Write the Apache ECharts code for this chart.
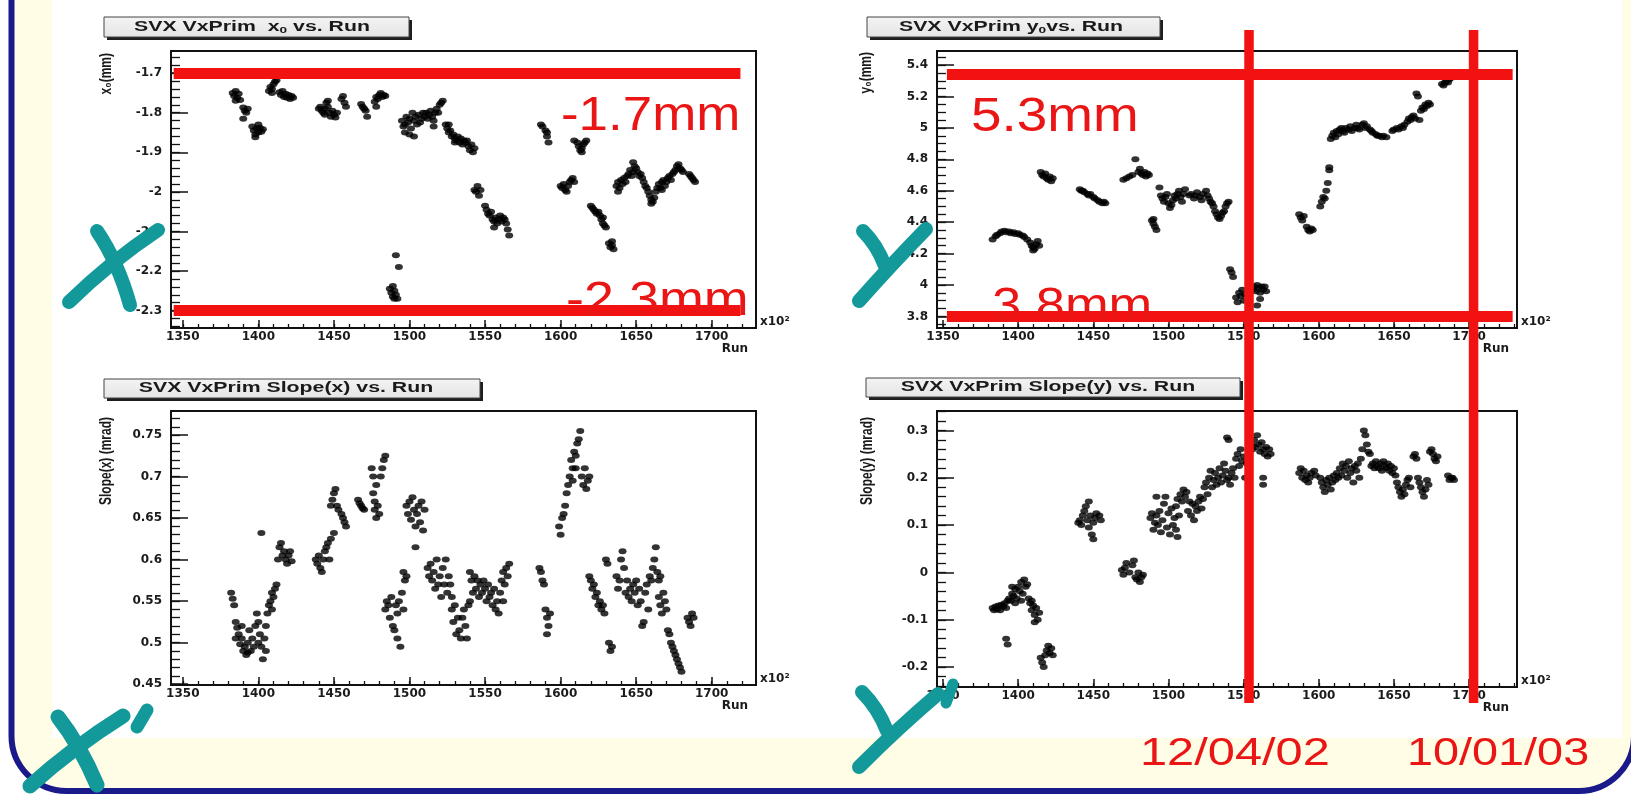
<!DOCTYPE html>
<html><head><meta charset="utf-8">
<script src="https://cdn.jsdelivr.net/npm/echarts@6/dist/echarts.min.js"></script>
<style>html,body{margin:0;padding:0;background:#fff}#c{width:1631px;height:794px}</style>
</head><body><div id="c"></div>
<script>
// ---------------- data ----------------
const x0Points = [
[1383,-1.75],[1384,-1.758],[1385,-1.745],[1386,-1.762],[1387,-1.752],[1388,-1.768],[1385,-1.77],
[1390,-1.787],[1391,-1.795],[1392,-1.80],[1393,-1.79],[1390,-1.815],
[1396,-1.835],[1397,-1.845],[1398,-1.855],[1399,-1.84],[1400,-1.85],[1401,-1.838],[1402,-1.848],[1403,-1.842],[1398,-1.862],[1400,-1.83],
[1407,-1.745],[1408,-1.735],[1409,-1.75],[1410,-1.728],[1411,-1.722],[1412,-1.718],[1409,-1.74],
[1414,-1.748],[1415,-1.755],[1416,-1.745],[1417,-1.76],[1418,-1.752],[1419,-1.762],[1420,-1.755],[1421,-1.765],[1422,-1.758],[1423,-1.762],
[1440,-1.79],[1441,-1.785],[1442,-1.795],[1443,-1.80],[1444,-1.79],[1445,-1.775],[1446,-1.785],[1447,-1.80],[1448,-1.81],[1449,-1.795],[1450,-1.805],[1451,-1.812],[1452,-1.80],[1446,-1.77],[1444,-1.805],
[1455,-1.765],[1456,-1.758],[1457,-1.775],[1458,-1.785],
[1468,-1.778],[1469,-1.785],[1470,-1.79],[1471,-1.795],[1472,-1.81],
[1477,-1.772],[1478,-1.76],[1479,-1.765],[1480,-1.755],[1481,-1.75],[1482,-1.76],[1483,-1.755],[1484,-1.758],[1478,-1.785],
[1491,-2.16],[1493,-2.19],[1487,-2.245],[1488,-2.255],[1489,-2.265],[1490,-2.27],[1491,-2.26],[1492,-2.27],[1490,-2.25],[1489,-2.238],
[1495,-1.82],[1496,-1.835],[1497,-1.83],[1498,-1.81],[1499,-1.825],[1500,-1.815],[1501,-1.84],[1502,-1.80],[1503,-1.82],[1504,-1.81],[1505,-1.83],[1506,-1.805],[1507,-1.825],[1508,-1.815],[1500,-1.855],[1497,-1.85],[1503,-1.86],[1509,-1.80],
[1510,-1.81],[1511,-1.80],[1512,-1.815],[1513,-1.805],[1514,-1.795],[1515,-1.81],[1516,-1.82],[1517,-1.80],[1518,-1.79],[1519,-1.80],[1520,-1.78],[1521,-1.775],[1522,-1.77],[1516,-1.835],
[1524,-1.83],[1525,-1.84],[1526,-1.85],[1527,-1.845],[1528,-1.86],[1529,-1.855],[1530,-1.865],[1531,-1.87],[1532,-1.86],[1533,-1.875],[1534,-1.865],[1535,-1.88],[1536,-1.87],[1537,-1.875],[1538,-1.87],[1539,-1.885],[1540,-1.895],[1541,-1.88],[1542,-1.90],[1543,-1.89],[1526,-1.83],[1530,-1.875],
[1543,-1.995],[1544,-2.0],[1545,-1.985],[1546,-2.01],[1547,-1.995],
[1550,-2.035],[1551,-2.045],[1552,-2.055],[1553,-2.06],[1554,-2.05],[1555,-2.07],[1556,-2.075],[1557,-2.065],[1558,-2.08],[1559,-2.07],[1560,-2.06],[1561,-2.075],[1562,-2.065],[1563,-2.07],[1564,-2.08],[1565,-2.095],[1566,-2.11],[1556,-2.09],
[1587,-1.83],[1588,-1.835],[1590,-1.845],[1591,-1.86],[1592,-1.875],[1591,-1.85],
[1600,-1.985],[1601,-1.99],[1602,-1.98],[1603,-1.995],[1604,-2.0],[1605,-1.985],[1606,-1.975],[1607,-1.97],[1608,-1.965],[1609,-1.975],
[1609,-1.87],[1611,-1.875],[1612,-1.885],[1613,-1.895],[1614,-1.89],[1615,-1.88],[1616,-1.875],[1617,-1.87],[1614,-1.9],
[1620,-2.035],[1621,-2.04],[1622,-2.045],[1623,-2.05],[1624,-2.055],[1625,-2.05],[1626,-2.06],[1627,-2.07],[1628,-2.08],[1629,-2.085],[1630,-2.09],[1628,-2.065],
[1632,-2.13],[1633,-2.14],[1634,-2.135],[1635,-2.145],[1634,-2.125],
[1637,-1.985],[1638,-1.975],[1639,-1.99],[1640,-1.97],[1641,-1.98],[1642,-1.965],[1643,-1.975],[1644,-1.96],[1645,-1.955],[1646,-1.945],[1647,-1.96],[1648,-1.95],[1649,-1.935],[1650,-1.94],[1651,-1.95],[1652,-1.96],[1653,-1.955],[1654,-1.965],[1648,-1.925],[1638,-2.0],
[1655,-1.975],[1656,-1.985],[1657,-1.99],[1658,-2.0],[1659,-2.01],[1660,-2.02],[1661,-2.025],[1662,-2.015],[1663,-2.0],[1664,-1.99],[1660,-2.03],
[1665,-1.98],[1666,-1.99],[1667,-1.975],[1668,-1.97],[1669,-1.985],[1670,-1.975],[1671,-1.965],[1672,-1.96],[1673,-1.97],[1674,-1.955],[1675,-1.95],[1676,-1.945],[1677,-1.935],[1678,-1.93],[1679,-1.94],[1680,-1.945],[1681,-1.95],[1667,-1.995],
[1685,-1.955],[1686,-1.96],[1687,-1.965],[1688,-1.97],[1689,-1.975]
];
const y0Points = [
[1383,4.29],[1385,4.31],[1386,4.32],[1388,4.33],[1389,4.34],[1391,4.345],[1392,4.335],[1394,4.34],[1395,4.33],[1397,4.335],[1398,4.325],[1400,4.33],[1401,4.32],[1403,4.315],[1404,4.305],[1406,4.29],
[1408,4.27],[1409,4.25],[1410,4.24],[1411,4.23],[1412,4.26],[1413,4.28],[1414,4.25],[1410,4.22],
[1415,4.72],[1416,4.70],[1417,4.69],[1418,4.71],[1419,4.68],[1420,4.67],[1421,4.69],[1422,4.66],[1423,4.68],
[1441,4.61],[1442,4.60],[1443,4.60],[1444,4.59],[1446,4.58],[1447,4.57],[1448,4.58],[1450,4.56],[1451,4.55],[1453,4.54],[1454,4.53],[1456,4.52],[1457,4.53],[1458,4.52],
[1470,4.67],[1472,4.68],[1474,4.69],[1476,4.70],[1478,4.80],
[1480,4.72],[1481,4.74],[1482,4.71],[1483,4.70],[1484,4.72],[1485,4.69],[1486,4.71],[1487,4.70],
[1489,4.41],[1490,4.39],[1491,4.37],[1492,4.35],[1490,4.42],
[1494,4.62],[1495,4.57],[1496,4.55],[1497,4.53],[1498,4.56],[1499,4.58],[1500,4.52],[1501,4.49],[1502,4.51],[1503,4.54],[1504,4.57],[1505,4.55],[1506,4.58],[1507,4.60],[1508,4.56],[1509,4.53],[1510,4.58],[1511,4.61],
[1514,4.57],[1515,4.58],[1517,4.55],[1518,4.57],[1519,4.59],[1521,4.56],[1522,4.54],[1523,4.58],[1525,4.60],[1526,4.57],[1527,4.55],[1528,4.53],
[1529,4.52],[1530,4.50],[1531,4.47],[1532,4.45],[1533,4.43],[1534,4.42],[1535,4.44],[1536,4.46],[1537,4.47],[1538,4.50],[1539,4.52],[1540,4.53],
[1541,4.10],[1542,4.08],[1543,4.05],
[1545,3.92],[1546,3.89],[1547,3.95],[1548,3.93],[1549,3.97],[1550,3.90],[1551,3.94],
[1556,3.97],[1557,3.99],[1558,3.96],[1559,4.0],[1560,3.98],[1561,3.95],[1562,3.99],[1563,3.97],[1564,3.99],[1565,3.96],[1559,3.87],[1561,3.91],
[1587,4.45],[1588,4.43],[1589,4.41],[1590,4.44],
[1592,4.37],[1593,4.35],[1594,4.34],[1595,4.36],[1596,4.35],
[1601,4.50],[1602,4.53],[1603,4.56],[1604,4.55],[1605,4.60],[1606,4.65],[1607,4.73],[1607,4.75],
[1608,4.93],[1609,4.95],[1610,4.97],[1611,4.94],[1612,4.98],[1613,4.96],[1614,4.99],[1615,5.0],[1616,4.98],[1617,4.97],[1618,5.0],[1620,4.99],[1621,5.01],[1622,4.98],[1624,5.0],[1625,5.02],[1626,5.0],[1627,4.99],
[1629,5.02],[1630,5.03],[1631,5.0],[1632,5.01],[1634,4.99],[1635,4.98],[1636,4.97],[1638,4.96],[1639,4.95],[1640,4.95],[1642,4.94],[1643,4.95],[1645,4.94],
[1649,4.98],[1650,4.99],[1652,5.0],[1653,4.99],[1655,5.01],[1656,5.0],[1657,5.02],
[1659,5.04],[1660,5.06],[1661,5.05],[1662,5.07],[1663,5.08],[1664,5.06],[1665,5.22],[1666,5.20],
[1667,5.05],[1668,5.11],[1669,5.13],[1670,5.12],[1671,5.15],[1672,5.14],[1673,5.16],[1674,5.15],
[1682,5.28],[1683,5.27],[1684,5.29],[1685,5.30],[1686,5.29],[1687,5.31],[1688,5.32],[1690,5.33]
];
const slopeXPoints = [
[1382,0.56],[1383,0.553],[1384,0.545],[1385,0.525],[1386,0.518],[1385,0.505],[1387,0.51],[1388,0.498],[1389,0.505],[1390,0.49],[1391,0.495],[1392,0.485],[1393,0.50],[1394,0.515],[1395,0.49],[1396,0.505],[1397,0.495],[1398,0.52],[1399,0.535],[1400,0.50],[1401,0.51],[1402,0.632],[1402,0.495],[1403,0.48],[1404,0.505],[1405,0.49],[1400,0.525],[1389,0.52],[1393,0.488],
[1405,0.52],[1406,0.535],[1407,0.545],[1408,0.55],[1409,0.54],[1410,0.555],[1411,0.565],[1412,0.57],[1409,0.56],
[1413,0.60],[1414,0.615],[1415,0.62],[1416,0.605],[1417,0.61],[1418,0.60],[1419,0.595],[1420,0.605],[1421,0.61],[1422,0.598],
[1438,0.60],[1439,0.595],[1440,0.605],[1441,0.59],[1442,0.585],[1443,0.60],[1444,0.61],[1445,0.615],[1446,0.62],[1447,0.60],[1448,0.625],[1450,0.632],
[1448,0.665],[1449,0.672],[1450,0.68],[1451,0.685],[1452,0.665],[1453,0.66],
[1455,0.655],[1456,0.65],[1457,0.645],[1458,0.64],
[1466,0.672],[1467,0.668],[1468,0.665],[1469,0.662],[1470,0.66],
[1475,0.71],[1476,0.70],[1476,0.68],[1477,0.67],[1477,0.66],[1478,0.65],[1478,0.69],[1479,0.665],[1480,0.655],[1481,0.70],[1482,0.71],[1483,0.72],[1484,0.725],
[1484,0.54],[1485,0.55],[1486,0.545],[1487,0.53],[1488,0.555],[1489,0.52],[1490,0.515],[1491,0.545],[1492,0.505],[1493,0.55],[1494,0.495],[1495,0.56],[1496,0.54],[1492,0.535],
[1496,0.585],[1497,0.575],[1498,0.58],
[1498,0.665],[1499,0.655],[1500,0.67],[1501,0.648],[1502,0.675],[1503,0.66],[1504,0.64],[1505,0.655],[1506,0.665],[1507,0.645],[1508,0.67],[1509,0.635],[1510,0.66],[1504,0.615],
[1512,0.59],[1513,0.58],[1514,0.595],[1515,0.575],[1516,0.585],[1517,0.565],[1518,0.60],[1519,0.57],[1520,0.58],[1521,0.555],[1522,0.59],[1523,0.57],[1524,0.60],[1525,0.56],[1526,0.58],[1527,0.57],[1528,0.555],
[1528,0.54],[1529,0.525],[1530,0.545],[1531,0.51],[1532,0.53],[1533,0.515],[1534,0.505],[1535,0.53],[1536,0.54],[1537,0.52],[1538,0.505],[1539,0.545],[1540,0.55],
[1540,0.585],[1541,0.575],[1542,0.56],[1543,0.58],[1544,0.565],[1545,0.575],[1546,0.555],[1547,0.57],[1548,0.56],[1549,0.575],[1550,0.565],[1551,0.55],
[1552,0.57],[1553,0.555],[1554,0.56],[1555,0.545],[1556,0.565],[1557,0.54],[1558,0.55],[1559,0.535],[1560,0.56],[1561,0.575],[1562,0.585],[1563,0.57],[1564,0.59],[1565,0.58],[1566,0.595],[1562,0.55],
[1586,0.59],[1587,0.585],[1588,0.575],[1589,0.57],
[1590,0.54],[1591,0.53],[1592,0.52],[1591,0.51],[1593,0.535],
[1599,0.64],[1600,0.63],[1601,0.65],[1602,0.655],[1603,0.665],[1604,0.68],[1605,0.69],[1606,0.70],[1607,0.72],[1608,0.71],[1609,0.73],[1610,0.725],[1611,0.74],[1612,0.745],[1613,0.755],[1608,0.695],[1610,0.71],
[1614,0.70],[1615,0.69],[1616,0.71],[1617,0.685],[1618,0.695],[1619,0.70],
[1619,0.58],[1620,0.575],[1621,0.565],[1622,0.57],[1623,0.555],[1624,0.56],[1625,0.545],[1626,0.55],[1627,0.54],[1628,0.545],[1629,0.535],[1630,0.6],[1631,0.595],
[1632,0.50],[1633,0.49],[1634,0.495],
[1637,0.58],[1638,0.565],[1639,0.575],[1640,0.60],[1641,0.61],[1642,0.59],[1643,0.56],[1644,0.575],[1645,0.555],[1646,0.565],[1647,0.55],
[1648,0.57],[1649,0.56],[1650,0.575],[1651,0.545],[1652,0.565],[1653,0.55],[1654,0.52],[1655,0.525],[1656,0.56],[1657,0.57],[1658,0.54],
[1659,0.58],[1660,0.575],[1661,0.59],[1662,0.60],[1663,0.615],[1664,0.585],[1665,0.575],[1666,0.58],
[1665,0.555],[1666,0.545],[1667,0.535],[1668,0.56],[1669,0.55],[1670,0.54],
[1671,0.515],[1672,0.51],[1673,0.50],[1674,0.495],[1675,0.49],[1676,0.485],[1677,0.48],[1678,0.475],[1679,0.47],[1680,0.465],
[1684,0.53],[1685,0.525],[1686,0.52],[1687,0.535],[1688,0.53]
];
const slopeYPoints = [
[1383,-0.075],[1384,-0.08],[1385,-0.072],[1386,-0.078],[1387,-0.07],[1388,-0.08],[1389,-0.068],[1390,-0.072],[1391,-0.065],[1392,-0.075],[1393,-0.06],
[1392,-0.14],[1393,-0.152],
[1394,-0.055],[1395,-0.06],[1396,-0.045],[1397,-0.05],[1398,-0.035],[1399,-0.055],[1400,-0.03],[1401,-0.04],[1402,-0.02],[1403,-0.045],[1404,-0.015],[1405,-0.03],[1406,-0.025],[1398,-0.065],[1402,-0.06],[1396,-0.03],
[1407,-0.055],[1408,-0.065],[1409,-0.08],[1410,-0.07],[1411,-0.09],[1412,-0.075],[1413,-0.1],[1409,-0.06],[1411,-0.105],[1414,-0.085],
[1415,-0.18],[1416,-0.19],[1417,-0.2],[1418,-0.175],[1419,-0.165],[1420,-0.155],[1421,-0.17],[1422,-0.16],[1423,-0.175],
[1440,0.105],[1441,0.11],[1442,0.1],[1443,0.12],[1444,0.13],[1445,0.14],[1446,0.11],[1447,0.095],[1448,0.12],[1449,0.08],[1450,0.105],[1451,0.115],[1452,0.125],[1454,0.12],[1455,0.11],[1447,0.15],[1450,0.07],
[1469,0.005],[1470,-0.005],[1471,0.01],[1472,0.02],[1474,0.0],[1476,0.015],[1477,0.025],[1478,-0.01],[1479,-0.015],[1480,0.0],[1481,-0.02],[1482,-0.01],[1483,-0.005],
[1488,0.115],[1489,0.125],[1490,0.09],[1491,0.105],[1492,0.12],[1493,0.1],[1494,0.13],[1495,0.085],[1496,0.11],[1497,0.145],[1498,0.16],[1499,0.095],[1500,0.125],[1501,0.08],[1502,0.135],[1503,0.1],[1504,0.115],[1505,0.09],[1506,0.075],[1507,0.12],[1492,0.16],
[1505,0.14],[1506,0.155],[1508,0.165],[1509,0.15],[1510,0.175],[1511,0.16],[1512,0.17],[1513,0.13],[1514,0.15],[1515,0.12],[1516,0.145],[1517,0.11],[1518,0.14],[1519,0.13],[1520,0.15],[1521,0.16],[1522,0.135],[1523,0.155],
[1524,0.18],[1525,0.19],[1526,0.165],[1527,0.2],[1528,0.215],[1529,0.18],[1530,0.195],[1531,0.21],[1532,0.185],[1533,0.2],[1534,0.22],[1535,0.19],[1536,0.205],[1537,0.23],[1538,0.215],[1539,0.195],[1540,0.2],[1541,0.185],[1542,0.21],[1543,0.22],[1544,0.2],
[1539,0.285],[1540,0.28],
[1545,0.24],[1546,0.25],[1547,0.225],[1548,0.26],[1549,0.235],[1550,0.245],[1551,0.2],[1552,0.23],
[1554,0.255],[1555,0.27],[1556,0.26],[1557,0.28],[1558,0.265],[1559,0.29],[1560,0.27],[1561,0.255],[1562,0.275],[1563,0.26],[1564,0.25],[1565,0.265],[1566,0.245],[1567,0.26],[1568,0.25],[1563,0.185],[1563,0.2],
[1587,0.21],[1588,0.22],[1589,0.2],[1590,0.215],[1591,0.195],[1592,0.205],[1593,0.19],[1594,0.2],[1595,0.21],[1597,0.215],[1598,0.205],
[1601,0.2],[1602,0.19],[1603,0.18],[1604,0.17],[1605,0.195],[1606,0.185],[1607,0.2],[1608,0.175],[1609,0.19],[1610,0.205],[1611,0.195],[1612,0.21],[1613,0.2],
[1614,0.22],[1615,0.205],[1616,0.23],[1617,0.215],[1618,0.225],[1619,0.2],[1620,0.235],[1621,0.21],[1622,0.22],[1623,0.19],[1624,0.225],[1625,0.215],[1626,0.23],[1627,0.2],[1628,0.24],
[1629,0.26],[1630,0.3],[1631,0.29],[1632,0.27],[1633,0.255],[1634,0.25],
[1635,0.225],[1636,0.23],[1637,0.22],[1638,0.235],[1639,0.225],[1640,0.22],[1641,0.23],[1642,0.215],[1643,0.235],[1644,0.225],[1645,0.22],[1646,0.23],[1647,0.215],[1648,0.225],[1649,0.21],[1650,0.22],
[1651,0.205],[1652,0.19],[1653,0.18],[1654,0.17],[1655,0.16],[1656,0.175],[1657,0.165],[1658,0.185],[1659,0.195],[1660,0.2],[1661,0.18],
[1663,0.245],[1664,0.25],[1665,0.24],
[1666,0.2],[1667,0.19],[1668,0.18],[1669,0.17],[1670,0.16],[1671,0.175],[1672,0.195],[1673,0.185],
[1674,0.255],[1675,0.26],[1676,0.25],[1677,0.24],[1678,0.235],[1679,0.245],
[1686,0.205],[1687,0.195],[1688,0.2],[1689,0.2],[1690,0.195]
];
// tick labels
const runTicks = [1350,1400,1450,1500,1550,1600,1650,1700];
const x0Ticks = [-2.3,-2.2,-2.1,-2,-1.9,-1.8,-1.7];
const y0Ticks = [3.8,4,4.2,4.4,4.6,4.8,5,5.2,5.4];
const slopeXTicks = [0.45,0.5,0.55,0.6,0.65,0.7,0.75];
const slopeYTicks = [-0.2,-0.1,0,0.1,0.2,0.3];
// annotations
const x0Limits = [-1.7, -2.3];
const y0Limits = [5.345, 3.8];
const dateRuns = [1553.6, 1703];
const dateLabels = ['12/04/02', '10/01/03'];
const titles = [
  '{n|SVX VxPrim  x}{s|0}{n| vs. Run}',
  '{n|SVX VxPrim y}{s|0}{n|vs. Run}',
  '{n|SVX VxPrim Slope(x) vs. Run}',
  '{n|SVX VxPrim Slope(y) vs. Run}'
];
const yTitles = ['x\u2080(mm)', 'y\u2080(mm)', 'Slope(x) (mrad)', 'Slope(y) (mrad)'];

// ---------------- layout ----------------
const grids = [
  {left:171, top:51, width:585, height:277},
  {left:937, top:51, width:580, height:277},
  {left:171, top:411, width:585, height:274},
  {left:937, top:411, width:580, height:276}
];
const xRanges = [[1342.2,1729.3],[1346,1731.9],[1342.2,1729.3],[1346,1731.9]];
const yRanges = [[-2.344,-1.644],[3.726,5.49],[0.449,0.779],[-0.242,0.341]];
const yMajor = [x0Ticks, y0Ticks, slopeXTicks, slopeYTicks];
const yMinorStep = [0.02, 0.05, 0.01, 0.02];
const seriesData = [x0Points, y0Points, slopeXPoints, slopeYPoints];

function minorTicks(min, max, step) {
  const out = [];
  for (let k = Math.ceil(min / step - 1e-9); k * step <= max + 1e-9; k++) out.push(+(k * step).toFixed(6));
  return out;
}
const plain = v => String(+(+v).toFixed(4));
const labelFont = {fontFamily:'DejaVu Sans', fontWeight:'bold', fontSize:12, color:'#1b1b1b'};
const INK = '#111';

const xAxis = [], yAxis = [], series = [];
grids.forEach((g, i) => {
  const [xmin, xmax] = xRanges[i], [ymin, ymax] = yRanges[i];
  xAxis.push({
    type:'value', gridIndex:i, min:xmin, max:xmax, position:'bottom',
    axisLine:{show:true, onZero:false, lineStyle:{color:INK, width:2}},
    axisTick:{show:true, inside:true, length:8, customValues:runTicks, lineStyle:{color:INK, width:1.5}},
    axisLabel:Object.assign({customValues:runTicks, margin:3, formatter:plain}, labelFont),
    splitLine:{show:false},
    name:'Run', nameLocation:'end', nameGap:-8,
    nameTextStyle:Object.assign({align:'right', verticalAlign:'top', padding:[15,0,0,0]}, labelFont)
  });
  xAxis.push({
    type:'value', gridIndex:i, min:xmin, max:xmax, position:'bottom',
    axisLine:{show:false, onZero:false},
    axisTick:{show:true, inside:true, length:4, customValues:minorTicks(xmin, xmax, 10), lineStyle:{color:INK, width:1.3}},
    axisLabel:{show:false}, splitLine:{show:false},
    name:'x10\u00b2', nameLocation:'end', nameGap:4,
    nameTextStyle:Object.assign({align:'left', verticalAlign:'bottom', padding:[0,0,0,0]}, labelFont)
  });
  yAxis.push({
    type:'value', gridIndex:i, min:ymin, max:ymax, position:'left',
    axisLine:{show:true, onZero:false, lineStyle:{color:INK, width:2}},
    axisTick:{show:true, inside:true, length:17, customValues:yMajor[i], lineStyle:{color:INK, width:1.5}},
    axisLabel:Object.assign({customValues:yMajor[i], margin:9, formatter:plain}, labelFont),
    splitLine:{show:false}
  });
  yAxis.push({
    type:'value', gridIndex:i, min:ymin, max:ymax, position:'left',
    axisLine:{show:false, onZero:false},
    axisTick:{show:true, inside:true, length:9, customValues:minorTicks(ymin, ymax, yMinorStep[i]), lineStyle:{color:INK, width:1.3}},
    axisLabel:{show:false}, splitLine:{show:false}
  });
  const s = {
    type:'scatter', xAxisIndex:2*i, yAxisIndex:2*i, data:seriesData[i],
    symbol:'circle', symbolSize:[8,6], itemStyle:{color:'#000'}, silent:true
  };
  const red = {color:'#f21212', width:11, type:'solid', cap:'butt'};
  if (i === 0) s.markLine = {silent:true, symbol:['none','none'], label:{show:false}, lineStyle:red, animation:false,
    data:x0Limits.map(v => [{coord:[1344, v]}, {coord:[1719, v]}])};
  if (i === 1) s.markLine = {silent:true, symbol:['none','none'], label:{show:false}, lineStyle:red, animation:false,
    data:y0Limits.map(v => [{coord:[1352.6, v]}, {coord:[1729, v]}])};
  series.push(s);
});

// ---------------- decorations ----------------
const TEAL = '#14999a', RED = '#ea1515';
const graphic = [
  {type:'rect', id:'bgCream', z:-100, shape:{x:11.5, y:-100, width:1622.5, height:891, r:55},
   style:{fill:'#fffde6', stroke:'#1a1a8a', lineWidth:6}},
  {type:'rect', id:'bgWhite', z:-99, shape:{x:52, y:0, width:1570, height:738}, style:{fill:'#ffffff'}}
];
const boxes = [[104,17,305,20],[867,17,293,20],[104,379,376,19],[866,378,374,19]];
boxes.forEach((b, i) => {
  graphic.push({type:'rect', id:'tsh'+i, z:5, shape:{x:b[0]+3, y:b[1]+3, width:b[2], height:b[3]}, style:{fill:'#1e1e1e'}});
  graphic.push({type:'rect', id:'tbx'+i, z:6, shape:{x:b[0], y:b[1], width:b[2], height:b[3]},
    style:{fill:new echarts.graphic.LinearGradient(0,0,0,1,[{offset:0,color:'#f4f4f4'},{offset:1,color:'#e4e4e4'}]), stroke:'#444', lineWidth:1}});
});
const titleCenters = [[252,27],[1011,27],[286,388.5],[1048,387.5]];
titles.forEach((t, i) => {
  graphic.push({type:'text', id:'ttl'+i, z:7, x:titleCenters[i][0], y:titleCenters[i][1], scaleX:1.52,
    style:{text:t, textAlign:'center', textVerticalAlign:'middle', fill:'#1a1a1a',
      rich:{n:{fontFamily:'Liberation Sans', fontWeight:'bold', fontSize:14, lineHeight:16, verticalAlign:'middle'},
            s:{fontFamily:'Liberation Sans', fontWeight:'bold', fontSize:9, lineHeight:16, verticalAlign:'bottom'}}}});
});
const yTitlePos = [[107,53],[867,52],[107,417],[868,417]];
yTitles.forEach((t, i) => {
  graphic.push({type:'text', id:'ytl'+i, z:7, x:yTitlePos[i][0], y:yTitlePos[i][1], rotation:Math.PI/2, scaleY:1.3,
    style:{text:t, textAlign:'right', textVerticalAlign:'middle', fill:'#1a1a1a',
      font:'bold 12px "Liberation Sans", "DejaVu Sans"'}});
});
// red annotation texts
const redTexts = [
  ['-1.7mm', 561, 116.5, 49, 1.08], ['-2.3mm', 566, 301, 49, 1.1],
  ['5.3mm', 971, 117.5, 49, 1.12], ['3.8mm', 992, 307.5, 49, 1.07]
];
redTexts.forEach((r, i) => {
  graphic.push({type:'text', id:'rt'+i, z:20, x:r[1], y:r[2], scaleX:r[4],
    style:{text:r[0], textAlign:'left', textVerticalAlign:'middle', fill:RED, font:r[3]+'px "Liberation Sans"'}});
});
// teal hand-drawn letters
function stroke(id, pts, w) {
  const s = {x1:pts[0], y1:pts[1], x2:pts[2], y2:pts[3]};
  if (pts.length > 4) { s.cpx1 = pts[4]; s.cpy1 = pts[5]; }
  return {type:pts.length > 4 ? 'bezierCurve' : 'line', id:id, z:30, shape:s,
    style:{stroke:TEAL, lineWidth:w || 14, lineCap:'round', fill:null}};
}
graphic.push(
  stroke('tx1', [97,231, 130,305, 118,262]),
  stroke('tx2', [158,230, 69,302, 110,262]),
  stroke('ty1', [863,231, 885,266, 877,245]),
  stroke('ty2', [926,229, 859,301, 890,266]),
  stroke('tx3', [58,717, 97,785, 80,745], 15),
  stroke('tx4', [123,716, 30,786, 72,748], 15),
  stroke('tx5', [147,710, 137,727], 13),
  stroke('ty3', [862,692, 887,731, 878,708], 14),
  stroke('ty4', [938,694, 859,767, 898,728], 14),
  stroke('ty5', [953,684, 946,703], 11)
);

const chart = echarts.init(document.getElementById('c'));
chart.setOption({
  animation:false, backgroundColor:'#ffffff',
  grid:grids.map(g => Object.assign({show:true, borderColor:INK, borderWidth:2, backgroundColor:'transparent', containLabel:false}, g)),
  xAxis, yAxis, series, graphic
});

// vertical date lines, placed through plot 2's run axis
const extra = [];
dateRuns.forEach((run, i) => {
  const px = chart.convertToPixel({xAxisIndex:2}, run);
  extra.push({type:'line', id:'vl'+i, z:25, shape:{x1:px, y1:30, x2:px, y2:703}, style:{stroke:'#f21212', lineWidth:9.5}});
});
const dateTextPos = [[1140, 754, 1.25], [1407, 754, 1.2]];
dateLabels.forEach((t, i) => {
  extra.push({type:'text', id:'dt'+i, z:20, x:dateTextPos[i][0], y:dateTextPos[i][1], scaleX:dateTextPos[i][2],
    style:{text:t, textAlign:'left', textVerticalAlign:'middle', fill:RED, font:'39px "Liberation Sans"'}});
});
chart.setOption({graphic:extra});
</script></body></html>
